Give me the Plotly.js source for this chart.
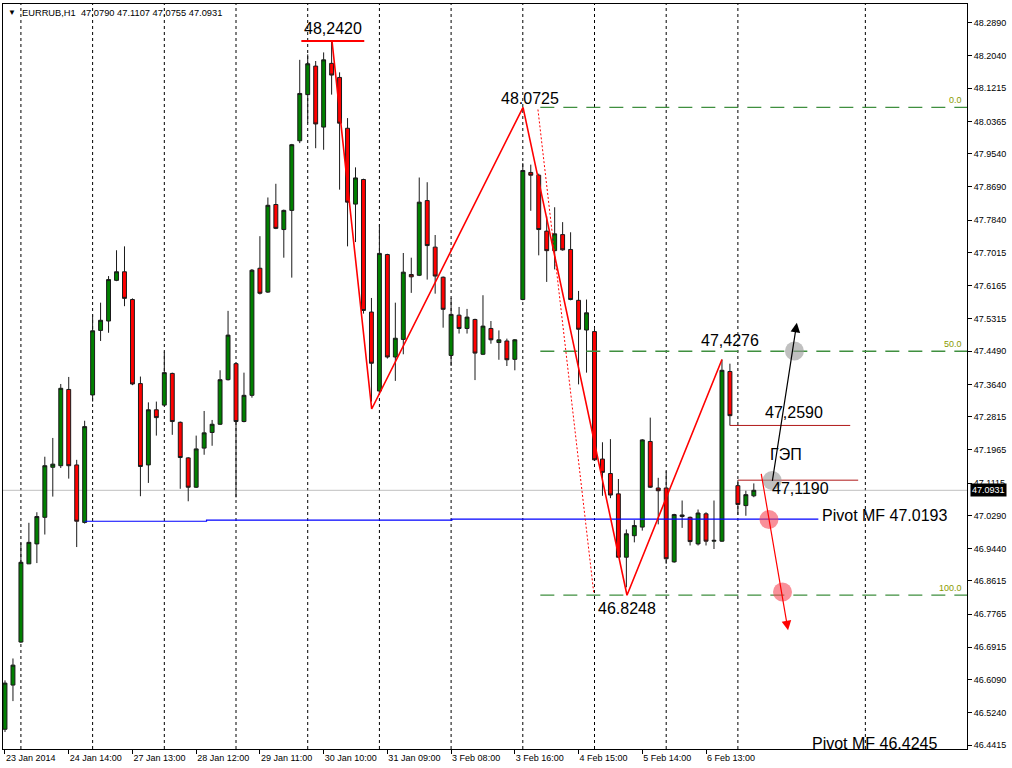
<!DOCTYPE html>
<html><head><meta charset="utf-8">
<script src="https://cdn.plot.ly/plotly-3.0.1.min.js"></script>
<style>html,body{margin:0;padding:0;background:#fff}#chart{width:1012px;height:768px}</style>
</head><body><div id="chart"></div>
<script>
// ---- OHLC data (EURRUB, H1), bar index 0..94 ----
const open  = [46.482,46.595,46.705,46.905,46.956,47.024,47.152,47.156,47.351,47.158,
               47.011,47.337,47.502,47.526,47.630,47.652,47.581,47.366,47.158,47.299,
               47.311,47.392,47.267,47.176,47.101,47.201,47.241,47.262,47.376,47.417,
               47.269,47.336,47.661,47.600,47.824,47.760,47.809,47.987,48.105,48.178,
               48.022,48.185,48.149,48.019,47.825,47.888,47.549,47.347,47.696,47.434,
               47.479,47.645,47.643,47.834,47.715,47.638,47.438,47.541,47.507,47.530,
               47.441,47.507,47.471,47.475,47.428,47.581,47.906,47.899,47.756,47.706,
               47.747,47.709,47.579,47.503,47.499,47.173,47.136,47.084,46.922,46.977,
               46.999,47.218,47.099,47.099,46.910,47.026,47.024,46.956,47.033,46.963,
               46.963,47.397,47.105,47.054,47.0790];
const high  = [46.607,46.663,46.959,47.010,47.037,47.179,47.227,47.365,47.383,47.171,
               47.271,47.543,47.573,47.641,47.707,47.717,47.584,47.384,47.318,47.320,
               47.448,47.394,47.269,47.178,47.233,47.296,47.273,47.400,47.552,47.419,
               47.394,47.659,47.743,47.842,47.877,47.811,47.979,48.194,48.208,48.191,
               48.213,48.242,48.162,48.045,47.919,47.890,47.585,47.773,47.698,47.573,
               47.700,47.688,47.893,47.881,47.746,47.640,47.585,47.562,47.557,47.532,
               47.592,47.526,47.502,47.481,47.480,47.930,47.926,47.903,47.794,47.817,
               47.779,47.753,47.603,47.581,47.509,47.216,47.224,47.122,46.993,47.017,
               47.224,47.279,47.125,47.142,47.033,47.067,47.026,47.044,47.037,47.067,
               47.4276,47.417,47.119,47.092,47.1107];
const low   = [46.475,46.554,46.703,46.905,46.907,46.980,47.077,47.150,47.123,46.948,
               47.008,47.320,47.475,47.496,47.628,47.564,47.362,47.078,47.112,47.233,
               47.309,47.235,47.097,47.065,47.099,47.184,47.207,47.260,47.374,47.075,
               47.267,47.330,47.594,47.598,47.761,47.688,47.637,47.981,48.032,47.968,
               47.964,48.105,47.862,47.717,47.728,47.545,47.320,47.340,47.430,47.373,
               47.441,47.598,47.641,47.632,47.596,47.509,47.411,47.494,47.494,47.375,
               47.439,47.468,47.427,47.411,47.400,47.579,47.808,47.694,47.626,47.658,
               47.706,47.579,47.364,47.394,47.169,47.079,47.073,46.920,46.845,46.960,
               46.990,47.099,47.006,46.905,46.908,46.997,46.952,46.952,46.952,46.943,
               46.961,47.259,47.030,47.028,47.0755];
const close = [46.600,46.646,46.909,46.960,47.026,47.156,47.160,47.354,47.156,47.014,
               47.256,47.501,47.528,47.632,47.652,47.584,47.365,47.154,47.299,47.279,
               47.394,47.269,47.177,47.101,47.199,47.240,47.262,47.376,47.490,47.269,
               47.336,47.656,47.597,47.822,47.763,47.809,47.977,48.108,48.184,48.030,
               48.194,48.155,48.032,47.830,47.892,47.553,47.418,47.699,47.434,47.482,
               47.651,47.639,47.830,47.719,47.641,47.556,47.543,47.507,47.536,47.444,
               47.513,47.478,47.478,47.427,47.478,47.911,47.899,47.760,47.706,47.749,
               47.708,47.581,47.505,47.547,47.171,47.139,47.081,46.922,46.982,47.003,
               47.222,47.101,47.092,46.918,47.031,47.030,46.962,47.035,46.963,46.965,
               47.400,47.284,47.057,47.082,47.0931];

// x-axis labels (every 8 bars)
const tickBars  = [0,8,16,24,32,40,48,56,64,72,80,88];
const tickTexts = ["23 Jan 2014","24 Jan 14:00","27 Jan 13:00","28 Jan 12:00","29 Jan 11:00",
                   "30 Jan 10:00","31 Jan 09:00","3 Feb 08:00","3 Feb 16:00","4 Feb 15:00",
                   "5 Feb 14:00","6 Feb 13:00"];
// vertical dashed grid (bar positions)
const gridBars = [2,11,20,29,38,47,56,65,74,83,92,108];
// price-axis labels
const yTicks = [48.2890,48.2040,48.1215,48.0365,47.9540,47.8690,47.7840,47.7015,47.6165,47.5315,
                47.4490,47.3640,47.2815,47.1965,47.1115,47.0290,46.9440,46.8615,46.7765,46.6915,
                46.6090,46.5240,46.4415];

// zigzag (manual drawing)
const zzX = [41.05,46.03,65.03,78.08,90.0];
const zzY = [48.242,47.301,48.0725,46.8248,47.4276];
const dotX = [66.9,73.9];
const dotY = [48.067,46.832];
// Fibonacci levels
const fibNames  = ["0.0","50.0","100.0"];
const fibLevels = [48.0725,47.4487,46.8248];
const fibStart  = 67.2;
// horizontal level segments
const lvlPrice = [48.242,47.259,47.119];
const lvlStart = [37.2,91.0,92.0];
const lvlEnd   = [45.1,106.1,107.1];
const lvlColor = ["#ff0000","#b01818","#b01818"];
const lvlWidth = [2,1,1];
// pivot line (daily steps)
const pivX = [10,25.3,56.1,102.1];
const pivY = [47.014,47.017,47.0193,47.0193];
// forecast arrows [tailX, tailY, headX, headY]
const upArrow   = [96.3,47.1135,99.4,47.5217];
const downArrow = [94.9,47.139,98.3,46.735];
const grayDotX = [96.3,99.1], grayDotY = [47.118,47.4495];
const redDotX  = [95.9,97.6], redDotY  = [47.0183,46.833];

const idx = open.map((_, i) => i);
const lastClose = close[close.length - 1];
const XMAX = 120.76;

const traces = [];
// pivot line
traces.push({type:'scatter', mode:'lines', x:pivX, y:pivY, line:{color:'#0000ff', width:1.2, shape:'hv'}, hoverinfo:'skip'});
// fib lines
fibLevels.forEach(v => traces.push({type:'scatter', mode:'lines', x:[fibStart, XMAX], y:[v, v],
  line:{color:'#3f8f3f', width:1.3, dash:'14px,9px'}, hoverinfo:'skip'}));
// level segments
lvlPrice.forEach((v,k) => traces.push({type:'scatter', mode:'lines', x:[lvlStart[k], lvlEnd[k]], y:[v, v],
  line:{color:lvlColor[k], width:lvlWidth[k]}, hoverinfo:'skip'}));
// candles
traces.push({type:'candlestick', x:idx, open:open, high:high, low:low, close:close,
  whiskerwidth:0,
  increasing:{line:{color:'#1a1a1a', width:1}, fillcolor:'#008000'},
  decreasing:{line:{color:'#1a1a1a', width:1}, fillcolor:'#ff0000'},
  hoverinfo:'skip'});
// zigzag + dotted
traces.push({type:'scatter', mode:'lines', x:zzX, y:zzY, line:{color:'#ff0000', width:1.6}, hoverinfo:'skip'});
traces.push({type:'scatter', mode:'lines', x:dotX, y:dotY, line:{color:'#ff0000', width:1, dash:'2px,2px'}, hoverinfo:'skip'});
// circles
traces.push({type:'scatter', mode:'markers', x:grayDotX, y:grayDotY, marker:{size:19, color:'rgba(150,150,150,0.6)'}, hoverinfo:'skip'});
traces.push({type:'scatter', mode:'markers', x:redDotX, y:redDotY, marker:{size:19, color:'rgba(245,70,85,0.6)'}, hoverinfo:'skip'});
// bottom clipped pivot text
traces.push({type:'scatter', mode:'text', x:[101.3], y:[46.4417], text:['Pivot MF 46.4245'], textposition:'middle right',
  textfont:{family:'Liberation Sans, Arial, sans-serif', size:16, color:'#000'}, cliponaxis:true, hoverinfo:'skip'});

const shapes = [];
gridBars.forEach(b => shapes.push({type:'line', xref:'x', yref:'paper', x0:b, x1:b, y0:0, y1:1,
  line:{color:'#000', width:1, dash:'3px,3px'}, layer:'below'}));
shapes.push({type:'line', xref:'paper', yref:'y', x0:0, x1:1, y0:lastClose, y1:lastClose,
  line:{color:'#c0c0c0', width:1}, layer:'below'});

const F = 'Liberation Sans, Arial, sans-serif';
const lab = (t, x, y, xa) => ({text:t, x:x, y:y, xref:'x', yref:'y', showarrow:false,
  xanchor:xa||'center', yanchor:'middle', font:{family:F, size:16, color:'#000'}});
const annotations = [
  lab('48,2420', 41.2, 48.2754),
  lab('48.0725', 65.9, 48.0939),
  lab('47,4276', 91.0, 47.4775),
  lab('47,2590', 99.0, 47.2917),
  lab('ГЭП', 98.0, 47.1843),
  lab('47,1190', 99.9, 47.0973),
  lab('46.8248', 78.1, 46.7918),
  lab('Pivot MF 47.0193', 102.3, 47.029, 'left'),
  {text:'▼', xref:'paper', yref:'paper', x:0.0095, y:0.988, xanchor:'center', yanchor:'middle', showarrow:false,
   font:{family:F, size:8, color:'#000'}},
  {text:'EURRUB,H1  ' + [open[94],high[94],low[94],close[94]].map(v=>v.toFixed(4)).join(' '),
   xref:'paper', yref:'paper', x:0.0176, y:0.988, xanchor:'left', yanchor:'middle', showarrow:false,
   font:{family:F, size:9.3, color:'#000'}},
  {text:lastClose.toFixed(4), xref:'paper', yref:'y', x:1.003, y:lastClose, xanchor:'left', yanchor:'middle',
   showarrow:false, bgcolor:'#000', borderpad:1, font:{family:F, size:9, color:'#fff'}},
  {text:'', x:upArrow[2], y:upArrow[3], ax:upArrow[0], ay:upArrow[1], xref:'x', yref:'y', axref:'x', ayref:'y',
   showarrow:true, arrowhead:2, arrowsize:1.6, arrowwidth:1.2, arrowcolor:'#000'},
  {text:'', x:downArrow[2], y:downArrow[3], ax:downArrow[0], ay:downArrow[1], xref:'x', yref:'y', axref:'x', ayref:'y',
   showarrow:true, arrowhead:2, arrowsize:1.6, arrowwidth:1.2, arrowcolor:'#ff0000'}
];
fibNames.forEach((t,k) => annotations.push({text:t, xref:'paper', yref:'y', x:0.997, y:fibLevels[k],
  xanchor:'right', yanchor:'bottom', showarrow:false, font:{family:F, size:9, color:'#8a9a00'}}));

const layout = {
  width:1012, height:768, margin:{l:3, r:45, t:4, b:19}, showlegend:false,
  paper_bgcolor:'#fff', plot_bgcolor:'#fff',
  xaxis:{range:[-0.25, XMAX], tickvals:tickBars, ticktext:tickTexts, ticks:'outside', ticklen:4,
    tickcolor:'#000', ticklabelposition:'outside right', showgrid:false, zeroline:false,
    showline:true, mirror:true, linecolor:'#000', linewidth:1, rangeslider:{visible:false},
    tickfont:{family:F, size:9, color:'#000'}, fixedrange:true},
  yaxis:{side:'right', range:[46.4315, 48.3368], tickvals:yTicks, ticktext:yTicks.map(v=>v.toFixed(4)),
    ticks:'outside', ticklen:4, tickcolor:'#000', showgrid:false, zeroline:false,
    showline:true, mirror:true, linecolor:'#000', linewidth:1,
    tickfont:{family:F, size:9, color:'#000'}, fixedrange:true},
  shapes:shapes, annotations:annotations
};
Plotly.newPlot('chart', traces, layout, {displayModeBar:false, staticPlot:true});
</script></body></html>
